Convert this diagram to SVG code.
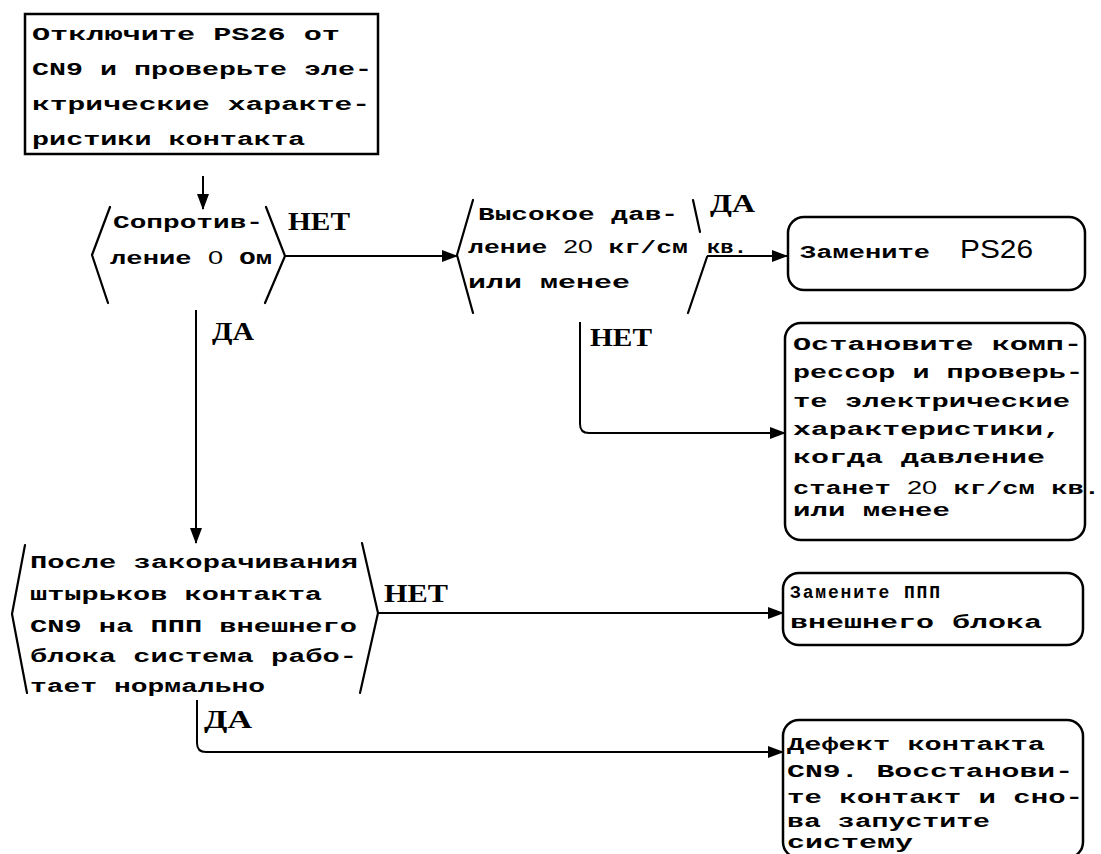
<svg xmlns="http://www.w3.org/2000/svg" width="1101" height="854" viewBox="0 0 1101 854">
<style>
.bg{fill:#fff}
.box{fill:none;stroke:#000;stroke-width:2.5}
.dec{fill:none;stroke:#000;stroke-width:2.2;stroke-linecap:round;stroke-linejoin:round}
.con{fill:none;stroke:#000;stroke-width:2}
.t{font-family:"Liberation Mono","DejaVu Sans Mono",monospace;font-size:18px;font-weight:bold;fill:#000}
.lab{font-family:"Liberation Serif","DejaVu Serif",serif;font-size:26px;font-weight:bold;fill:#000}
.sans{font-family:"Liberation Sans",Arial,sans-serif;font-size:25px;fill:#000}
.dg{font-family:"Liberation Sans",Arial,sans-serif;font-weight:normal}
</style>
<defs>
<marker id="ah" markerWidth="16" markerHeight="12" refX="15" refY="6" orient="auto" markerUnits="userSpaceOnUse">
<path d="M0,0 L16,6 L0,12 Z" fill="#000"/>
</marker>
</defs>
<rect class="bg" x="0" y="0" width="1101" height="854"/>

<g id="connectors">
<path class="con" d="M203,176 V209" marker-end="url(#ah)"/>
<path class="con" d="M285,256 H457" marker-end="url(#ah)"/>
<path class="con" d="M707,256 H787" marker-end="url(#ah)"/>
<path class="con" d="M580,322 V424 Q580,433 589,433 H785" marker-end="url(#ah)"/>
<path class="con" d="M196,310 V543" marker-end="url(#ah)"/>
<path class="con" d="M378,613 H783" marker-end="url(#ah)"/>
<path class="con" d="M197,700 V743 Q197,752 206,752 H783" marker-end="url(#ah)"/>
</g>

<g id="labels">
<text class="lab" x="288" y="230" textLength="62" lengthAdjust="spacingAndGlyphs">НЕТ</text>
<text class="lab" x="212" y="340" textLength="42" lengthAdjust="spacingAndGlyphs">ДА</text>
<text class="lab" x="710" y="212" textLength="45" lengthAdjust="spacingAndGlyphs">ДА</text>
<text class="t" x="707" y="253" textLength="40" lengthAdjust="spacingAndGlyphs">кв.</text>
<text class="lab" x="590" y="346" textLength="62" lengthAdjust="spacingAndGlyphs">НЕТ</text>
<text class="lab" x="384" y="602" textLength="64" lengthAdjust="spacingAndGlyphs">НЕТ</text>
<text class="lab" x="204" y="728" textLength="48" lengthAdjust="spacingAndGlyphs">ДА</text>
</g>

<g id="n-start">
<rect class="box" x="25" y="14" width="353" height="140"/>
<text class="t" x="32" y="40" textLength="308" lengthAdjust="spacingAndGlyphs">Отключите PS26 от</text>
<text class="t" x="32" y="75" textLength="340" lengthAdjust="spacingAndGlyphs">CN9 и проверьте эле-</text>
<text class="t" x="32" y="110" textLength="338" lengthAdjust="spacingAndGlyphs">ктрические характе-</text>
<text class="t" x="32" y="145" textLength="273" lengthAdjust="spacingAndGlyphs">ристики контакта</text>
</g>

<g id="d-resistance">
<path class="dec" d="M110,207 L92,255 L108,303 M266,207 L285,256 L265,303"/>
<text class="t" x="113" y="228" textLength="150" lengthAdjust="spacingAndGlyphs">Сопротив-</text>
<text class="t" x="110" y="264" textLength="162" lengthAdjust="spacingAndGlyphs">ление <tspan class="dg">0</tspan> Ом</text>
</g>

<g id="d-pressure">
<path class="dec" d="M473,200 L457,255 L473,313 M693,200 L700,232 M707,257 L688,313"/>
<text class="t" x="478" y="220" textLength="200" lengthAdjust="spacingAndGlyphs">Высокое дав-</text>
<text class="t" x="468" y="253" textLength="220" lengthAdjust="spacingAndGlyphs">ление <tspan class="dg">20</tspan> кг/см</text>
<text class="t" x="468" y="288" textLength="162" lengthAdjust="spacingAndGlyphs">или менее</text>
</g>

<g id="n-replace-ps26">
<rect class="box" x="788" y="217" width="297" height="73" rx="16"/>
<text class="t" x="800" y="258" textLength="130" lengthAdjust="spacingAndGlyphs">Замените</text>
<text class="sans" x="960" y="258" textLength="73" lengthAdjust="spacingAndGlyphs">PS26</text>
</g>

<g id="n-stop-compressor">
<rect class="box" x="785" y="323" width="300" height="217" rx="16"/>
<text class="t" x="793" y="350" textLength="289" lengthAdjust="spacingAndGlyphs">Остановите комп-</text>
<text class="t" x="793" y="378" textLength="290" lengthAdjust="spacingAndGlyphs">рессор и проверь-</text>
<text class="t" x="793" y="407" textLength="277" lengthAdjust="spacingAndGlyphs">те электрические</text>
<text class="t" x="793" y="435" textLength="268" lengthAdjust="spacingAndGlyphs">характеристики,</text>
<text class="t" x="793" y="463" textLength="252" lengthAdjust="spacingAndGlyphs">когда давление</text>
<text class="t" x="793" y="494" textLength="307" lengthAdjust="spacingAndGlyphs">станет <tspan class="dg">20</tspan> кг/см кв.</text>
<text class="t" x="793" y="516" textLength="157" lengthAdjust="spacingAndGlyphs">или менее</text>
</g>

<g id="d-short-pins">
<path class="dec" d="M25,545 L12,614 L27,693 M362,543 L378,613 L360,693"/>
<text class="t" x="30" y="568" textLength="328" lengthAdjust="spacingAndGlyphs">После закорачивания</text>
<text class="t" x="30" y="600" textLength="292" lengthAdjust="spacingAndGlyphs">штырьков контакта</text>
<text class="t" x="30" y="632" textLength="327" lengthAdjust="spacingAndGlyphs">CN9 на ППП внешнего</text>
<text class="t" x="30" y="662" textLength="327" lengthAdjust="spacingAndGlyphs">блока система рабо-</text>
<text class="t" x="30" y="692" textLength="235" lengthAdjust="spacingAndGlyphs">тает нормально</text>
</g>

<g id="n-replace-pcb">
<rect class="box" x="783" y="573" width="300" height="72" rx="16"/>
<text class="t" x="790" y="598" textLength="150" lengthAdjust="spacing">Замените ППП</text>
<text class="t" x="790" y="628" textLength="252" lengthAdjust="spacingAndGlyphs">внешнего блока</text>
</g>

<g id="n-contact-defect">
<rect class="box" x="783" y="720" width="300" height="138" rx="16"/>
<text class="t" x="787" y="750" textLength="258" lengthAdjust="spacingAndGlyphs">Дефект контакта</text>
<text class="t" x="787" y="777" textLength="286" lengthAdjust="spacingAndGlyphs">CN9. Восстанови-</text>
<text class="t" x="787" y="803" textLength="296" lengthAdjust="spacingAndGlyphs">те контакт и сно-</text>
<text class="t" x="787" y="827" textLength="203" lengthAdjust="spacingAndGlyphs">ва запустите</text>
<text class="t" x="787" y="848" textLength="126" lengthAdjust="spacingAndGlyphs">систему</text>
</g>
</svg>
